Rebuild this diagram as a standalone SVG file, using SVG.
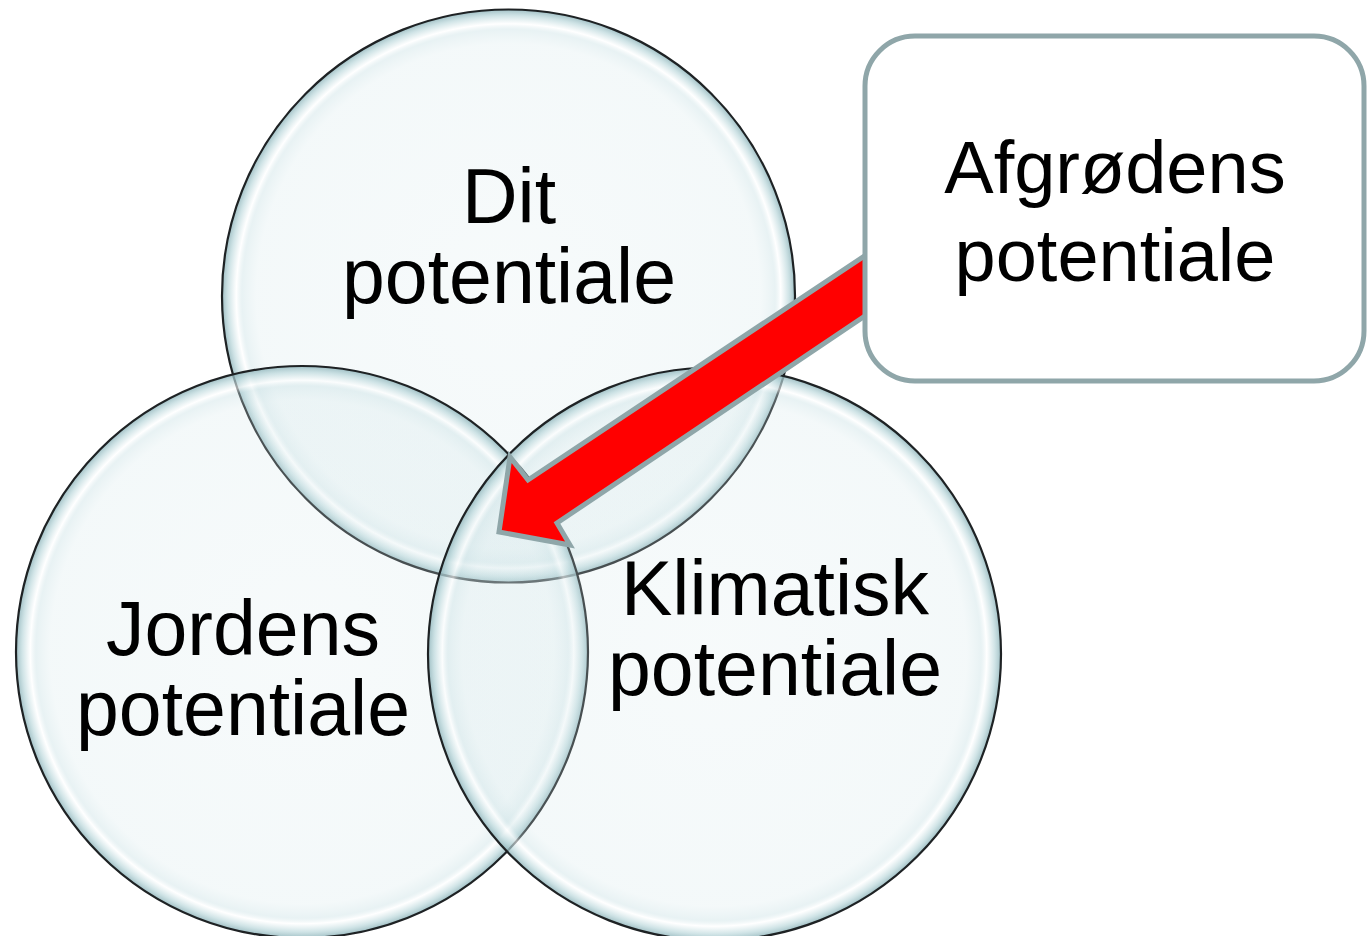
<svg xmlns="http://www.w3.org/2000/svg" width="1370" height="936" viewBox="0 0 1370 936">
<style>
.bubble{fill:url(#bub);stroke:#1e2224;stroke-width:2.2}
.lbl{font-family:"Liberation Sans",Arial,sans-serif;font-size:77px;fill:#000;text-anchor:middle}
.blbl{font-size:74px}
.arrow{fill:#ff0000;stroke:#8fa6a9;stroke-width:5;stroke-linejoin:miter}
.box{fill:#fff;stroke:#8fa6a9;stroke-width:5}
</style>
<defs>
<radialGradient id="bub" cx="0.5" cy="0.5" r="0.5">
<stop offset="0" stop-color="#d6e8eb" stop-opacity="0.2"/>
<stop offset="0.88" stop-color="#d2e6e9" stop-opacity="0.25"/>
<stop offset="0.93" stop-color="#c6dfe3" stop-opacity="0.4"/>
<stop offset="0.95" stop-color="#ffffff" stop-opacity="0.6"/>
<stop offset="0.978" stop-color="#b8d6da" stop-opacity="0.65"/>
<stop offset="1" stop-color="#8fb4ba" stop-opacity="0.85"/>
</radialGradient>
</defs>
<rect width="1370" height="936" fill="#fff"/>
<g id="dit">
<circle class="bubble" cx="508.5" cy="296" r="286.5"/>
</g>
<g id="jordens">
<circle class="bubble" cx="302" cy="652" r="286"/>
</g>
<g id="klimatisk">
<circle class="bubble" cx="714.5" cy="654" r="286.5"/>
</g>
<g id="connectors">
<polygon class="arrow" points="905,229 528,480 510,457 499,532 570,545 557,523 905,289"/>
</g>
<g id="afgroedens">
<rect class="box" x="865" y="36" width="499" height="345" rx="50" ry="50"/>
<text class="lbl blbl" x="1115" y="193">Afgrødens</text>
<text class="lbl blbl" x="1115" y="281">potentiale</text>
</g>
<g id="dit-label">
<text class="lbl" x="509" y="223">Dit</text>
<text class="lbl" x="509" y="303">potentiale</text>
</g>
<g id="jordens-label">
<text class="lbl" x="243" y="655">Jordens</text>
<text class="lbl" x="243" y="735">potentiale</text>
</g>
<g id="klimatisk-label">
<text class="lbl" x="775" y="615">Klimatisk</text>
<text class="lbl" x="775" y="695">potentiale</text>
</g>
</svg>
